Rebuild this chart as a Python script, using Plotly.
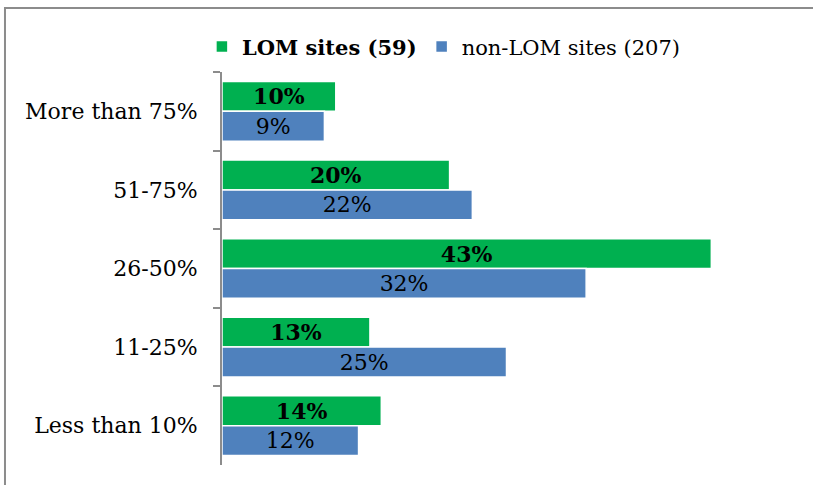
import plotly.graph_objects as go

CATEGORIES = ["More than 75%", "51-75%", "26-50%", "11-25%", "Less than 10%"]
LOM_PCT = [10, 20, 43, 13, 14]
NON_LOM_PCT = [9, 22, 32, 25, 12]
LOM_NAME = "LOM sites (59)"
NON_LOM_NAME = "non-LOM sites (207)"

GREEN = "#00B050"
BLUE = "#4F81BD"
FONT = "DejaVu Serif"
SIZE = 22

fig = go.Figure()

fig.add_trace(
    go.Bar(
        y=CATEGORIES,
        x=LOM_PCT,
        name=f"<b>{LOM_NAME}</b>",
        orientation="h",
        marker=dict(color=GREEN, line=dict(color="white", width=1.5)),
        texttemplate="<b>%{x}%</b>",
        textposition="inside",
        insidetextanchor="middle",
        textfont=dict(family=FONT, size=SIZE, color="black"),
        hoverinfo="skip",
    )
)
fig.add_trace(
    go.Bar(
        y=CATEGORIES,
        x=NON_LOM_PCT,
        name=NON_LOM_NAME,
        orientation="h",
        marker=dict(color=BLUE, line=dict(color="white", width=1.5)),
        texttemplate="%{x}%",
        textposition="inside",
        insidetextanchor="middle",
        textfont=dict(family=FONT, size=SIZE, color="black"),
        hoverinfo="skip",
    )
)

# outer frame (only left and top edges fall inside the picture)
fig.add_shape(
    type="rect",
    xref="paper",
    yref="paper",
    x0=-0.3814,
    x1=1.2,
    y0=-0.2,
    y1=1.1628,
    line=dict(color="#8c8c8c", width=2),
    fillcolor="rgba(0,0,0,0)",
)

fig.update_layout(
    width=813,
    height=485,
    margin=dict(l=222, r=22, t=72, b=20),
    barmode="group",
    bargap=0.24,
    bargroupgap=0.0,
    plot_bgcolor="white",
    paper_bgcolor="white",
    font=dict(family=FONT, size=SIZE, color="black"),
    uniformtext=dict(minsize=SIZE, mode="show"),
    showlegend=True,
    legend=dict(
        orientation="h",
        x=0.39,
        xanchor="center",
        y=1.064,
        yanchor="middle",
        font=dict(family=FONT, size=SIZE - 1, color="black"),
        itemwidth=30,
        tracegroupgap=0,
    ),
)
fig.update_xaxes(
    range=[0, 50],
    showgrid=False,
    zeroline=False,
    showticklabels=False,
    showline=False,
    ticks="",
)
fig.update_yaxes(
    autorange="reversed",
    showgrid=False,
    showline=True,
    linecolor="#8c8c8c",
    linewidth=2,
    ticks="outside",
    tickson="boundaries",
    ticklen=7,
    tickcolor="#8c8c8c",
    tickwidth=2,
    ticklabelstandoff=18,
    tickfont=dict(family=FONT, size=SIZE, color="black"),
)

fig.write_html(
    "out.html",
    config={"displayModeBar": False},
    post_script="document.body.style.margin='0';",
)
